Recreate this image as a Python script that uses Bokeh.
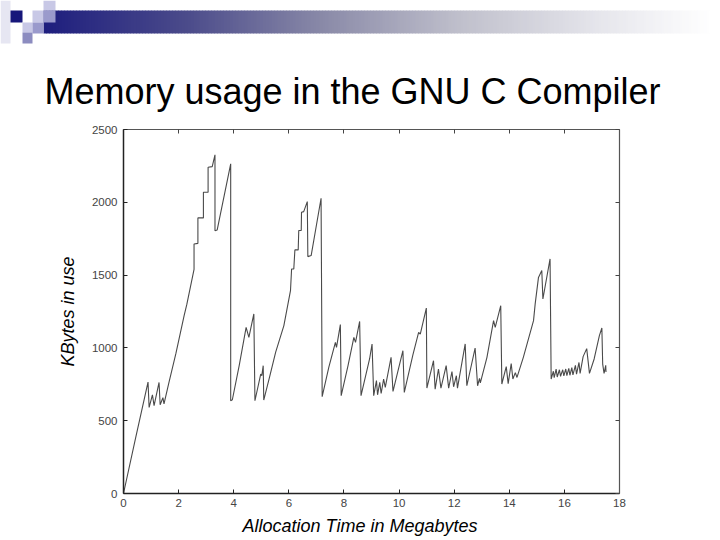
from bokeh.plotting import figure
from bokeh.layouts import column
from bokeh.models import Range1d, FixedTicker, LinearAxis
from bokeh.core.properties import value
from bokeh.embed import file_html
from bokeh.resources import INLINE

# ---------------- data ----------------
alloc_mb = [
    0.00, 0.45, 0.89, 0.93, 1.05, 1.11, 1.29, 1.33, 1.43, 1.47, 1.65, 1.90, 2.20, 2.30, 2.56,
    2.56, 2.70, 2.70, 2.90, 2.90, 3.07, 3.07, 3.22, 3.32, 3.32, 3.40, 3.89, 3.89,
    3.95, 4.20, 4.45, 4.55, 4.73, 4.77, 4.98, 5.02, 5.07, 5.09, 5.30, 5.52, 5.82, 6.06, 6.10,
    6.18, 6.22, 6.34, 6.36, 6.45, 6.46, 6.54, 6.67, 6.69, 6.81, 7.17, 7.21,
    7.45, 7.69, 7.73, 7.87, 7.90, 8.15, 8.36, 8.42, 8.57, 8.62, 8.93, 9.02, 9.08, 9.18, 9.22,
    9.30, 9.35, 9.44, 9.50, 9.71, 9.78, 10.14, 10.19, 10.50, 10.71, 10.77, 10.99, 11.01, 11.25,
    11.31, 11.43, 11.52, 11.71, 11.80, 11.92, 11.98, 12.08, 12.12, 12.40, 12.46, 12.76, 12.85,
    12.92, 12.95, 13.19, 13.43, 13.49, 13.69, 13.73, 13.89, 13.96, 14.07, 14.13, 14.22, 14.28,
    14.51, 14.88, 14.94, 15.06, 15.18, 15.22, 15.48, 15.52,
    15.60, 15.63, 15.70, 15.74, 15.82, 15.86, 15.94, 15.98, 16.05, 16.09, 16.16, 16.20, 16.27,
    16.31, 16.40, 16.44, 16.53, 16.57, 16.68, 16.81, 16.91, 17.08, 17.27, 17.36, 17.39, 17.44,
    17.50, 17.51,
]
kbytes = [
    0, 390, 765, 591, 678, 603, 763, 610, 658, 616, 763, 960, 1221, 1300, 1540,
    1714, 1718, 1893, 1893, 2069, 2069, 2241, 2245, 2326, 1805, 1810, 2264, 637,
    644, 880, 1141, 1072, 1233, 637, 820, 810, 878, 642, 800, 969, 1153, 1393, 1542,
    1542, 1673, 1673, 1806, 1806, 1931, 1936, 2005, 1627, 1634, 2028, 665,
    866, 1038, 1003, 1160, 672, 880, 1072, 1038, 1182, 672, 924, 1027, 672, 775, 678,
    763, 687, 786, 729, 935, 701, 981, 694, 950, 1107, 1095, 1274, 724, 912,
    717, 855, 724, 878, 724, 838, 733, 809, 724, 1027, 740, 999, 740,
    790, 760, 935, 1187, 1141, 1290, 752, 871, 755, 893, 786, 830, 797,
    935, 1187, 1302, 1484, 1531, 1336, 1611, 786,
    840, 795, 855, 800, 850, 805, 850, 808, 855, 810, 860, 812, 865,
    815, 880, 820, 900, 825, 940, 995, 825, 924, 1084, 1137, 889, 825,
    880, 835,
]
x_ticks = [0, 2, 4, 6, 8, 10, 12, 14, 16, 18]
y_ticks = [0, 500, 1000, 1500, 2000, 2500]
title_text = "Memory usage in the GNU C Compiler"
x_label = "Allocation Time in Megabytes"
y_label = "KBytes in use"

FONT = "Liberation Sans"
W = 712
HBOT = 124          # bottom of the header figure (page pixels)
FTOP = 514          # top of the footer figure
TOTAL_H = 538


def blank(fig):
    fig.axis.visible = False
    fig.grid.visible = False
    fig.outline_line_color = None
    if "frame_align" in fig.properties():
        fig.frame_align = False


# ---------------- header + title (page pixel coordinates) ----------------
header = figure(width=W, height=HBOT, x_range=Range1d(0, W), y_range=Range1d(HBOT, 0),
                output_backend="svg", toolbar_location=None, min_border=0)
blank(header)

stops = [(43, (30, 30, 126)), (184, (74, 74, 138)), (323, (138, 138, 168)),
         (461, (192, 192, 204)), (600, (230, 230, 236)), (712, (255, 255, 255))]
def col_at(x):
    for (x0, c0), (x1, c1) in zip(stops[:-1], stops[1:]):
        if x0 <= x <= x1:
            t = (x - x0) / (x1 - x0)
            return "#%02x%02x%02x" % tuple(int(round(a + (b - a) * t)) for a, b in zip(c0, c1))
    return "#ffffff"
lefts = list(range(43, W, 3))
header.quad(left=lefts, right=[l + 3.5 for l in lefts], top=[10] * len(lefts),
            bottom=[33] * len(lefts), fill_color=[col_at(l + 1.5) for l in lefts], line_color=None)
sq = [
    (0, 10, 0, 43, "#e6e6f2"),
    (10, 22, 10, 22, "#16167a"),
    (32, 43, 10, 22, "#c8c8e6"),
    (43, 55, 0, 10, "#c8c8e6"),
    (43, 55, 10, 22, "#9a9acc"),
    (22, 32, 22, 32, "#c8c8e6"),
    (32, 43, 22, 33, "#9a9acc"),
    (22, 32, 32, 43, "#8c8cc0"),
]
header.quad(left=[s[0] for s in sq], right=[s[1] for s in sq], top=[s[2] for s in sq],
            bottom=[s[3] for s in sq], fill_color=[s[4] for s in sq], line_color=None)
header.text(x=[352], y=[91], text=[title_text], text_align="center", text_baseline="middle",
            text_font=value(FONT), text_font_size="36px", text_color="black")

# ---------------- main chart ----------------
p = figure(width=W, height=FTOP - HBOT, x_range=Range1d(0, 18), y_range=Range1d(0, 2500),
           output_backend="svg", toolbar_location=None,
           min_border_left=123, min_border_right=W - 619, min_border_top=129 - HBOT,
           min_border_bottom=FTOP - 493)
p.grid.visible = False
p.outline_line_color = None
if "frame_align" in p.properties():
    p.frame_align = False

p.line(alloc_mb, kbytes, line_color="#4a4a4a", line_width=1.1)

for ax in (p.xaxis[0], p.yaxis[0]):
    ax.major_tick_in = 4
    ax.major_tick_out = 0
    ax.minor_tick_line_color = None
    ax.axis_line_color = "#222222"
    ax.axis_line_width = 1.5
    ax.major_tick_line_color = "#222222"
    ax.major_label_text_font = FONT
    ax.major_label_text_font_size = "11.5px"
    ax.major_label_text_color = "#444444"
    ax.axis_label_text_font = FONT
    ax.axis_label_text_font_style = "italic"
    ax.axis_label_text_color = "black"
p.xaxis[0].ticker = FixedTicker(ticks=x_ticks)
p.yaxis[0].ticker = FixedTicker(ticks=y_ticks)
p.xaxis[0].major_label_standoff = 5
p.yaxis[0].major_label_standoff = 6

p.yaxis[0].axis_label = y_label
p.yaxis[0].axis_label_text_font_size = "18px"
p.yaxis[0].axis_label_standoff = 11

for loc, ticks in (("above", x_ticks), ("right", y_ticks)):
    ax = LinearAxis(ticker=FixedTicker(ticks=ticks))
    ax.major_tick_in = 4
    ax.major_tick_out = 0
    ax.minor_tick_line_color = None
    ax.axis_line_color = "#555555"
    ax.axis_line_width = 1.2
    ax.major_tick_line_color = "#444444"
    ax.major_label_text_color = None
    ax.major_label_text_font_size = "1px"
    ax.major_label_standoff = 0
    p.add_layout(ax, loc)

# ---------------- footer with the x-axis title ----------------
footer = figure(width=W, height=TOTAL_H - FTOP, x_range=Range1d(0, W), y_range=Range1d(TOTAL_H, FTOP),
                output_backend="svg", toolbar_location=None, min_border=0)
blank(footer)
footer.text(x=[359.5], y=[525], text=[x_label], text_align="center", text_baseline="middle",
            text_font=value(FONT), text_font_size="18px", text_font_style="italic",
            text_color="black")

layout = column(header, p, footer, spacing=0)
open("out.html", "w").write(file_html(layout, INLINE))
